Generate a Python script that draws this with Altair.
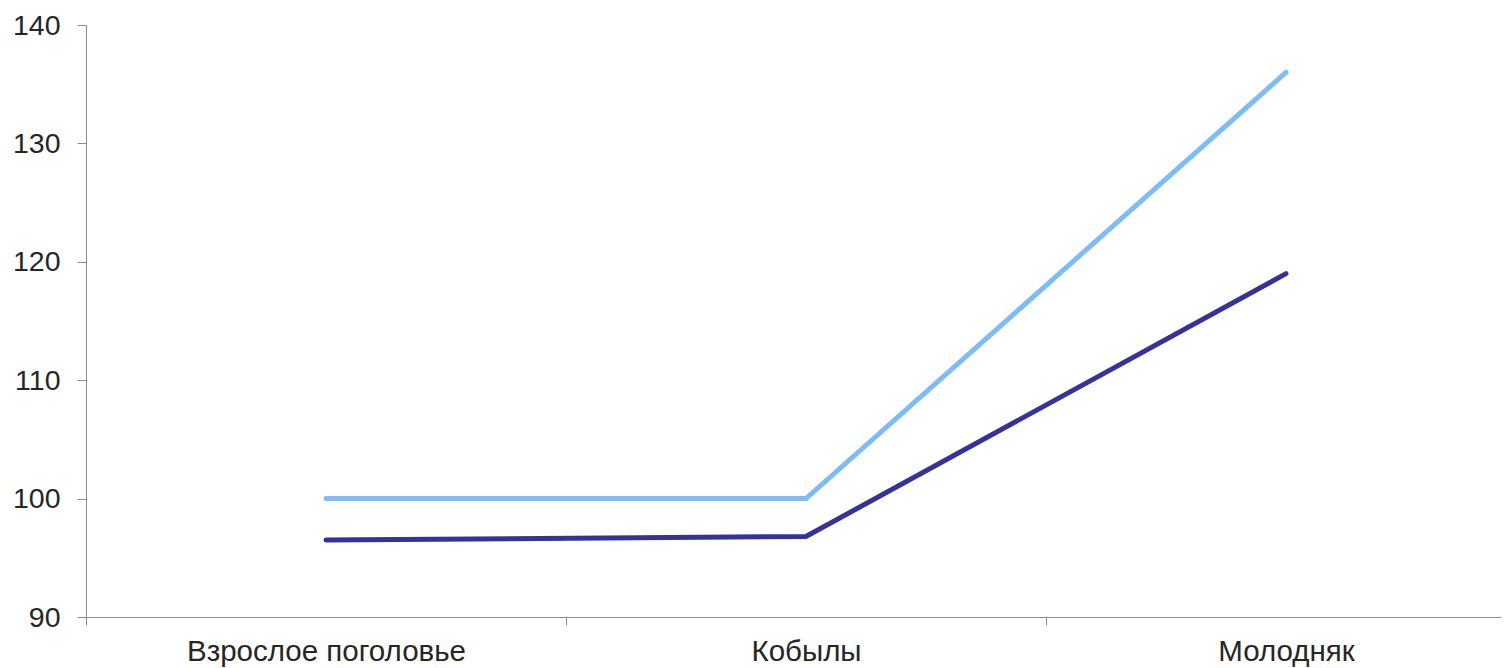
import altair as alt
import pandas as pd

categories = ["Взрослое поголовье", "Кобылы", "Молодняк"]
series_names = ["Серия 1", "Серия 2"]
light_values = [100, 100, 136]
dark_values = [96.5, 96.8, 119]
colors = ["#7DBBF9", "#333399"]

rows = []
for c, v in zip(categories, light_values):
    rows.append({"cat": c, "value": v, "series": series_names[0]})
for c, v in zip(categories, dark_values):
    rows.append({"cat": c, "value": v, "series": series_names[1]})
df = pd.DataFrame(rows)

chart = alt.Chart(df).mark_line(strokeWidth=5, strokeCap="round").encode(
    x=alt.X("cat:N", sort=categories, bandPosition=0.5,
            scale=alt.Scale(type="band", paddingInner=0, paddingOuter=0, range=[0, 1440]),
            axis=alt.Axis(title=None, labelAngle=0, tickBand="extent",
                          labelFontSize=29.5, labelColor="#262626", labelFont="Liberation Sans",
                          labelPadding=12, tickSize=8, tickColor="#8c8c8c", labelLimit=0,
                          domainColor="#8c8c8c", labelOverlap=False)),
    y=alt.Y("value:Q", scale=alt.Scale(domain=[90, 140], nice=False, zero=False),
            axis=alt.Axis(title=None, values=[90, 100, 110, 120, 130, 140], grid=False,
                          labelFontSize=28.5, labelColor="#262626", labelFont="Liberation Sans",
                          labelPadding=17, tickSize=9, tickColor="#8c8c8c",
                          domainColor="#8c8c8c")),
    color=alt.Color("series:N", scale=alt.Scale(domain=series_names, range=colors), legend=None),
    detail="series:N",
).properties(
    width=1415, height=592,
    autosize=alt.AutoSizeParams(type="none"),
    padding={"left": 78, "top": 17, "right": 0, "bottom": 51},
).configure_view(stroke=None)

chart.save("out.html", embed_options={"renderer": "svg", "actions": False})
